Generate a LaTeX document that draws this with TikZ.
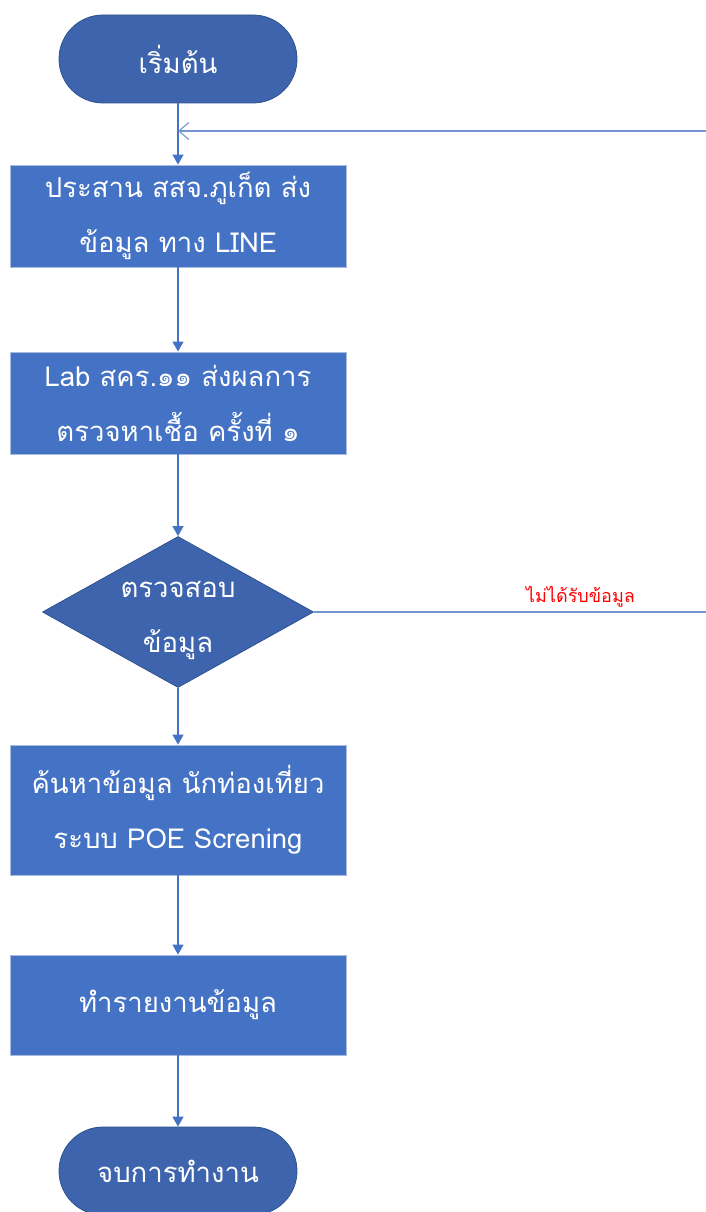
\documentclass[tikz,border=0pt]{standalone}
\usepackage{fontspec}
\newfontfamily\thaifont[Script=Thai]{Loma}
\usetikzlibrary{shapes.geometric,arrows.meta}
\definecolor{termfill}{HTML}{3D64AD}
\definecolor{termline}{HTML}{2F528F}
\definecolor{boxfill}{HTML}{4472C4}
\definecolor{boxline}{HTML}{A9BCE0}
\definecolor{flowline}{HTML}{4472C4}
\definecolor{backline}{HTML}{7494D4}
\tikzset{
  bigtext/.style={font=\thaifont\fontsize{27.5}{55}\selectfont},
  terminal/.style={draw=termline, line width=0.8pt, fill=termfill, rounded corners=44pt,
    minimum width=238pt, minimum height=88pt, text=white, inner sep=0pt, bigtext},
  process/.style={draw=boxline, line width=0.8pt, fill=boxfill, minimum width=336pt,
    text=white, align=center, inner sep=0pt, bigtext},
  decision/.style={diamond, draw=termline, line width=0.8pt, fill=termfill,
    minimum width=271pt, minimum height=151pt, inner sep=0pt},
  flow/.style={draw=flowline, line width=1.4pt, -{Triangle[width=11pt,length=10pt]}},
  back/.style={draw=backline, line width=1.4pt},
  backarrow/.style={draw=backline, line width=1.4pt, -{Straight Barb[width=17pt,length=10pt,line width=1.1pt]}},
  nolabel/.style={text=red, font=\thaifont\fontsize{18}{22}\selectfont}
}
\begin{document}
\begin{tikzpicture}[x=1pt,y=-1pt]
\useasboundingbox (0,0) rectangle (706,1212);
\node[terminal] (start) at (178,59) {เริ่มต้น};
\node[process, minimum height=102pt] (p1) at (178,216) {ประสาน สสจ.ภูเก็ต ส่ง\\ข้อมูล ทาง LINE};
\node[process, minimum height=102pt] (p2) at (178,403) {Lab สคร.๑๑ ส่งผลการ\\ตรวจหาเชื้อ ครั้งที่ ๑};
\node[decision, label={[text=white, align=center, bigtext, yshift=-8pt]center:ตรวจสอบ\\ข้อมูล}] (d1) at (178,612) {};
\node[process, minimum height=130pt] (p3) at (178,810) {ค้นหาข้อมูล นักท่องเที่ยว\\ระบบ POE Screning};
\node[process, minimum height=100pt] (p4) at (178,1005) {ทำรายงานข้อมูล};
\node[terminal] (stop) at (178,1171) {จบการทำงาน};

\coordinate (backin) at (706,131);
\coordinate (backjoin) at (178,131);
\coordinate (noout) at (706,612);

\draw[flow] (start) -- (p1);
\draw[flow] (p1) -- (p2);
\draw[flow] (p2) -- (d1);
\draw[flow] (d1) -- (p3);
\draw[flow] (p3) -- (p4);
\draw[flow] (p4) -- (stop);
\draw[backarrow] (backin) -- (backjoin);
\draw[back] (d1.east) -- node[nolabel, above=1pt, pos=0.68] (nolbl) {ไม่ได้รับข้อมูล} (noout);
\end{tikzpicture}
\end{document}
